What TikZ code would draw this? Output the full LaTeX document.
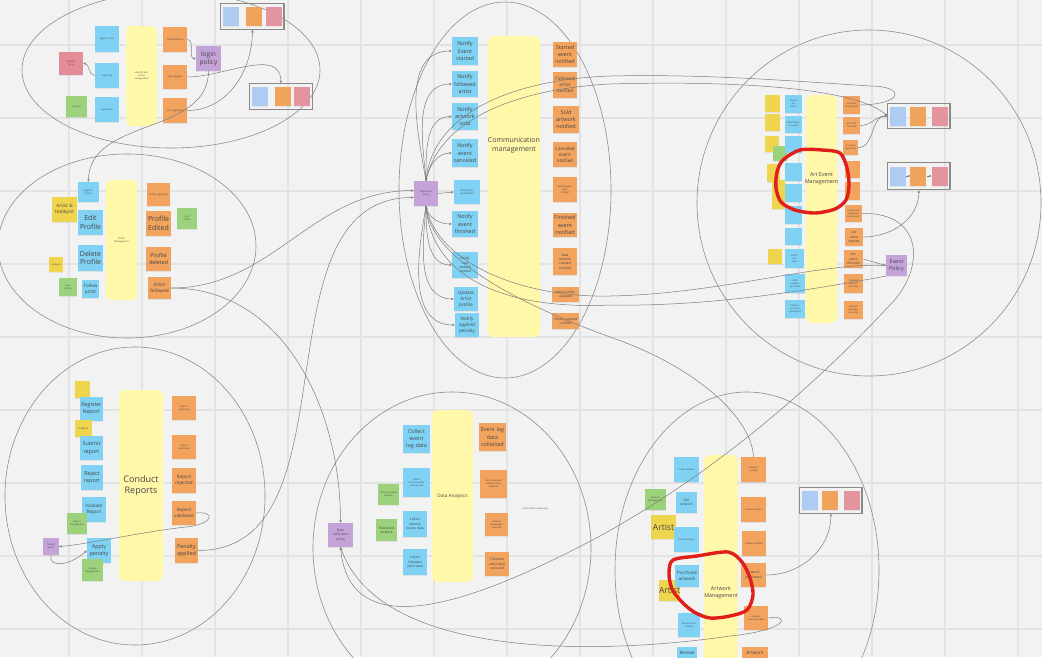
\documentclass[tikz,border=0pt]{standalone}
\usepackage{fontspec}
\setmainfont{Open Sans}
\usetikzlibrary{arrows.meta,positioning,fit,shadows}

\definecolor{bgc}{HTML}{F2F2F2}
\definecolor{gridc}{HTML}{E3E3E3}
\definecolor{ringc}{HTML}{8E8E8E}
\definecolor{linec}{HTML}{7C7C7C}
\definecolor{framec}{HTML}{8A8A8A}
\definecolor{stblue}{HTML}{7FD2F4}
\definecolor{storange}{HTML}{F2A35E}
\definecolor{styellow}{HTML}{EFD54E}
\definecolor{stpale}{HTML}{FFF8A8}
\definecolor{stgreen}{HTML}{9DD27C}
\definecolor{stpurple}{HTML}{C4A3D9}
\definecolor{stred}{HTML}{E48D98}
\definecolor{sqblue}{HTML}{AECBF1}
\definecolor{sqorange}{HTML}{F0A35A}
\definecolor{sqred}{HTML}{E2949F}
\definecolor{markred}{HTML}{E01E1A}
\definecolor{inkc}{HTML}{454545}

\begin{document}
\begin{tikzpicture}[
  x=1pt, y=-1pt,
  node distance=5pt,
  gridline/.style={draw=gridc, line width=1.1pt},
  ring/.style={draw=ringc, line width=0.6pt},
  sticky/.style={inner sep=0pt, align=center, text=inkc, text width=24pt,
                 minimum width=24pt, minimum height=25pt,
                 drop shadow={opacity=0.15, shadow xshift=0pt, shadow yshift=-1.2pt}},
  wh/.style 2 args={text width=#1pt, minimum width=#1pt, minimum height=#2pt},
  bnote/.style={sticky, fill=stblue},
  onote/.style={sticky, fill=storange},
  ynote/.style={sticky, fill=styellow},
  gnote/.style={sticky, fill=stgreen},
  pnote/.style={sticky, fill=stpurple},
  rnote/.style={sticky, fill=stred},
  lane/.style={fill=stpale, rounded corners=6pt, inner sep=0pt, align=center, text=inkc},
  sq/.style={minimum width=16pt, minimum height=19pt, inner sep=0pt,
             drop shadow={opacity=0.12, shadow xshift=0pt, shadow yshift=-1pt}},
  boxframe/.style={draw=framec, line width=1.2pt, inner xsep=2pt, inner ysep=3pt},
  conn/.style={draw=linec, line width=0.5pt, -{Stealth[length=2.8pt,width=2.4pt]}},
  redloop/.style={draw=markred, line width=3.4pt, line cap=round, line join=round},
  txa/.style={font=\fontsize{2.3}{2.9}\selectfont},
  txb/.style={font=\fontsize{3.3}{4.3}\selectfont},
  txc/.style={font=\fontsize{4.6}{6}\selectfont},
  txd/.style={font=\fontsize{5.4}{7.3}\selectfont},
  txe/.style={font=\fontsize{7}{8.6}\selectfont},
  txf/.style={font=\fontsize{9}{11.5}\selectfont},
  txg/.style={font=\fontsize{8.5}{10}\selectfont},
]

\useasboundingbox (0,0) rectangle (1042,657);
\fill[bgc] (0,0) rectangle (1042,657);
\foreach \gx in {69,142,...,1018} \draw[gridline] (\gx,0) -- (\gx,657);
\foreach \gy in {45,118,...,629} \draw[gridline] (0,\gy) -- (1042,\gy);

% ---------- Identity and access ----------
\draw[ring] (171,70) ellipse [x radius=149, y radius=78];
\node[bnote, wh={24}{26}, txa] (reguser) at (107,39) {Register User};
\node[bnote, wh={24}{25}, txa] (loginuser) at (107,75.5) {LoginUser};
\node[bnote, wh={24}{25}, txa] (logoutuser) at (107,109.5) {LogoutUser};
\node[rnote, wh={24}{23}, txa] (loginfail) at (71,63.5) {Failed to\\log in};
\node[gnote, wh={21}{21}, txa] (account) at (76.5,106.5) {Account};
\node[lane, minimum width=31pt, minimum height=100pt, txa] (iam) at (141.5,76) {Identity and\\access\\management};
\node[onote, wh={24}{25}, txa] (uregd) at (175,39.5) {UserRegistered};
\node[onote, wh={24}{24}, txa] (ulogin) at (175,77) {UserLoggedIn};
\node[onote, wh={24}{25}, txa] (ulogout) at (175,110.5) {UserLoggedOut};
\node[pnote, wh={25}{25}, font=\fontsize{6.6}{8.2}\selectfont] (loginpol) at (208.5,58.5) {login\\policy};

\node[sq, fill=sqblue] (b1a) at (231,16.5) {};
\node[sq, fill=sqorange, right=7pt of b1a] (b1b) {};
\node[sq, fill=sqred, right=3pt of b1b] (b1c) {};
\node[boxframe, fit=(b1a)(b1c)] (box1) {};

\node[sq, fill=sqblue] (b2a) at (259.5,96.5) {};
\node[sq, fill=sqorange, right=7pt of b2a] (b2b) {};
\node[sq, fill=sqred, right=3pt of b2b] (b2c) {};
\node[boxframe, fit=(b2a)(b2c)] (box2) {};

% ---------- Profile management ----------
\draw[ring] (127,246) ellipse [x radius=129, y radius=92];
\node[bnote, wh={21}{20}, txa] (regprof) at (88.5,192) {Register\\profile};
\node[bnote, wh={25}{25}, txe] (editprof) at (90.5,222.5) {Edit\\Profile};
\node[bnote, wh={25}{26}, txe] (delprof) at (90.5,258) {Delete\\Profile};
\node[bnote, wh={17}{18}, txc] (folart) at (90.5,289) {Follow\\artist};
\node[ynote, wh={25}{25}, txc] (arthob) at (64.5,209.5) {Artist \&\\Hobbyist};
\node[ynote, wh={14}{15}, txa] (hobby) at (56,264.5) {Hobbyist};
\node[gnote, wh={18}{18}, txa] (uprofa) at (68,287) {User\\Profile};
\node[lane, minimum width=31pt, minimum height=120pt, txa] (profmgmt) at (121.5,240) {Profile\\Management};
\node[onote, wh={23}{23}, txa] (profreg) at (158.5,194.5) {Profile registered};
\node[onote, wh={25}{25}, txe] (profedit) at (158.5,223.5) {Profile\\Edited};
\node[onote, wh={25}{24}, txd] (profdel) at (158.5,259) {Profile\\deleted};
\node[onote, wh={23}{22}, txc] (artfol) at (159.5,288) {Artist\\followed};
\node[gnote, wh={20}{21}, txa] (uprofb) at (187,218.5) {User\\Profile};

% ---------- Communication management ----------
\draw[ring] (505,190) ellipse [x radius=106, y radius=188];
\node[pnote, wh={24}{25}, txa] (notipol) at (426,193.5) {Notification\\Policy};
\node[bnote, wh={26}{28}, txd] (nstart) at (465,51) {Notify\\Event\\started};
\node[bnote, wh={26}{26}, txd] (nfollow) at (465,84) {Notify\\followed\\artist};
\node[bnote, wh={26}{27}, txd] (nsold) at (465,116.5) {Notify\\artwork\\sold};
\node[bnote, wh={26}{28}, txd] (ncancel) at (465,153) {Notify\\event\\canceled};
\node[bnote, wh={26}{24}, txa] (nresched) at (467,192) {Notify Event\\Rescheduled};
\node[bnote, wh={26}{26}, txd] (nfinish) at (465,224) {Notify\\event\\finished};
\node[bnote, wh={26}{26}, txb] (nnewart) at (465,265) {Notify\\new\\artwork\\created};
\node[bnote, wh={24}{24}, txc] (nupdart) at (466,299) {Update\\Artist\\profile};
\node[bnote, wh={24}{24}, txc] (npenalty) at (467,325) {Notify\\applied\\penalty};
\node[lane, minimum width=52pt, minimum height=301pt,
      label={[txe, text=inkc, align=center, yshift=41pt]center:{Communication\\management}}] (commgmt) at (514,186.5) {};
\node[onote, wh={24}{25}, txd] (startn) at (565,54.5) {Started\\event\\notified};
\node[onote, wh={24}{26}, txc] (follown) at (565,85) {Followed\\artist\\notified};
\node[onote, wh={26}{27}, txd] (soldn) at (566,119.5) {Sold\\artwork\\notified};
\node[onote, wh={24}{25}, txc] (canceln) at (565,154.5) {Canceled\\event\\notified};
\node[onote, wh={24}{25}, txa] (reschedn) at (565,189.5) {Rescheduled\\event\\notified};
\node[onote, wh={24}{24}, txd] (finishn) at (565,225) {Finished\\event\\notified};
\node[onote, wh={24}{27}, txb] (newartn) at (565,261.5) {New\\artwork\\created\\notified};
\node[onote, wh={27}{15}, txb] (artupdn) at (565.5,294.5) {Artist profile\\updated};
\node[onote, wh={27}{16}, txb] (penappn) at (565.5,321) {Penalty applied\\notified};

% ---------- Art event management ----------
\draw[ring] (869,203) ellipse [x radius=172, y radius=173];
\node[ynote, wh={15}{17}] (aya) at (772.5,103.5) {};
\node[ynote, wh={15}{17}] (ayb) at (772.5,122.5) {};
\node[ynote, wh={14}{16}] (ayc) at (771.5,144) {};
\node[ynote, wh={13}{18}] (ayd) at (773.5,172.5) {};
\node[ynote, wh={13}{29}] (aye) at (778.5,194.5) {};
\node[gnote, wh={14}{15}] (agr) at (780,153.5) {};
\node[ynote, wh={14}{15}] (ayf) at (775,256.5) {};
\node[bnote, wh={17}{18}, txa] (createev) at (793.5,104) {Create\\art\\event};
\node[bnote, wh={17}{17}, txa] (reschev) at (793.5,124) {Reschedule\\art event};
\node[bnote, wh={17}{17}] (aeb3) at (793.5,144.5) {};
\node[bnote, wh={17}{18}] (aeb4) at (793.5,172) {};
\node[bnote, wh={17}{18}] (aeb5) at (793.5,193) {};
\node[bnote, wh={17}{18}] (aeb6) at (793.5,215) {};
\node[bnote, wh={17}{17}] (aeb7) at (793.5,236.5) {};
\node[bnote, wh={19}{19}, txa] (finishev) at (794.5,258.5) {Finish\\art\\event};
\node[bnote, wh={20}{19}, txa] (addpurch) at (795,283.5) {Add\\artwork\\purchase};
\node[bnote, wh={20}{18}, txa] (checkin) at (795,309) {Check in\\art event\\participant};
\node[lane, minimum width=31pt, minimum height=228pt,
      label={[txd, text=inkc, align=center, yshift=30pt]center:{Art Event\\Management}}] (aemgmt) at (821.5,209) {};
\node[onote, wh={17}{18}, txa] (evresch) at (851.5,105) {art event\\rescheduled};
\node[onote, wh={17}{17}, txa] (evcancel) at (851.5,125.5) {art event\\canceled};
\node[onote, wh={15}{15}, txa] (evreg) at (850.5,147.5) {art event\\registered};
\node[onote, wh={15}{17}] (aeo4) at (852.5,169.5) {};
\node[onote, wh={15}{18}] (aeo5) at (852.5,191) {};
\node[onote, wh={17}{17}, txa] (partreg) at (853.5,213.5) {Participant\\registered\\to art event};
\node[onote, wh={18}{18}, txb] (evstart) at (854,237) {Art\\event\\started};
\node[onote, wh={19}{18}, txb] (evfinish) at (853.5,259) {Art\\event\\finished};
\node[onote, wh={19}{19}, txa] (suspurch) at (853.5,283.5) {Suspend\\artwork\\purchase};
\node[onote, wh={19}{18}, txa] (cancpurch) at (853.5,310) {Artwork\\purchase\\canceled};
\node[pnote, wh={21}{21}, txd] (evpol) at (896.5,265.5) {Event\\Policy};

\node[sq, fill=sqblue] (bAa) at (898,116) {};
\node[sq, fill=sqorange, right=4pt of bAa] (bAb) {};
\node[sq, fill=sqred, right=5pt of bAb] (bAc) {};
\node[boxframe, fit=(bAa)(bAc)] (boxA) {};

\node[sq, fill=sqblue] (bBa) at (898,176) {};
\node[sq, fill=sqorange, right=4pt of bBa] (bBb) {};
\node[sq, fill=sqred, right=5pt of bBb] (bBc) {};
\node[boxframe, fit=(bBa)(bBc), inner ysep=4pt] (boxB) {};

% ---------- Conduct reports ----------
\draw[ring] (135,496) ellipse [x radius=130, y radius=149];
\node[ynote, wh={15}{17}] (repyel) at (82.5,389.5) {};
\node[bnote, wh={23}{24}, txd] (regrep) at (91.5,409) {Register\\Report};
\node[ynote, wh={17}{17}, txa] (rephob) at (83.5,428.5) {Hobbyist};
\node[bnote, wh={23}{24}, txd] (subrep) at (91.5,448) {Submit\\report};
\node[bnote, wh={22}{25}, txd] (rejrep) at (92,477.5) {Reject\\report};
\node[bnote, wh={24}{25}, txc] (valrep) at (94,509.5) {Validate\\Report};
\node[gnote, wh={20}{21}, txa] (repmgmt) at (77,523.5) {Report\\management};
\node[pnote, wh={16}{17}, txa] (penpol) at (51,546.5) {Penalty\\policy};
\node[bnote, wh={24}{25}, txd] (applypen) at (99,550.5) {Apply\\penalty};
\node[gnote, wh={21}{22}, txa] (penmgmt) at (92.5,570) {Penalty\\Management};
\node[lane, minimum width=44pt, minimum height=191pt, txf] (conduct) at (141,485.5) {Conduct\\Reports};
\node[onote, wh={24}{24}, txa] (repregd) at (184,408) {Report\\registered};
\node[onote, wh={24}{24}, txa] (repsubd) at (184,447) {Report\\submitted};
\node[onote, wh={24}{25}, txc] (reprejd) at (184,480.5) {Report\\rejected};
\node[onote, wh={24}{24}, txc] (repvald) at (184,513) {Report\\validated};
\node[onote, wh={23}{25}, txd] (penappd) at (186.5,550.5) {Penalty\\applied};

% ---------- Data analytics ----------
\draw[ring] (452,548) ellipse [x radius=139, y radius=156];
\node[pnote, wh={25}{24}, txb] (dcpol) at (340.5,535) {Data\\collection\\policy};
\node[bnote, wh={27}{28}, txd] (colevent) at (416.5,439) {Collect\\event\\log data};
\node[bnote, wh={27}{29}, txa] (colrec) at (416.5,482.5) {Collect\\recommended\\artwork data};
\node[bnote, wh={24}{26}, txb] (colrev) at (415,524) {Collect\\artwork\\review data};
\node[bnote, wh={24}{26}, txb] (colfol) at (415,562) {Collect\\followed\\artist data};
\node[gnote, wh={21}{21}, txa] (recart) at (388.5,494.5) {Recommended\\artwork};
\node[gnote, wh={21}{22}, txb] (revart) at (386.5,530) {Reviewed\\artwork};
\node[lane, minimum width=41pt, minimum height=172pt, txc] (danalytics) at (452.5,496) {Data Analytics};
\node[onote, wh={27}{28}, txd] (evlogd) at (492.5,437) {Event log\\data\\collected};
\node[onote, wh={27}{28}, txa] (recd) at (493.5,484) {Recommended\\artwork data\\collected};
\node[onote, wh={23}{23}, txa] (revd) at (496.5,524.5) {Artwork\\review data\\collected};
\node[onote, wh={24}{24}, txb] (fold) at (497,564) {Followed\\artist data\\collected};
\node[txa, text=inkc] (mlnote) at (535,509) {ai/ml machine learning};

% ---------- Artwork management ----------
\draw[ring] (747,570) ellipse [x radius=132, y radius=178];
\node[bnote, wh={25}{25}, txa] (createart) at (686.5,469.5) {Create artwork};
\node[gnote, wh={21}{21}, txa] (artmgmtg) at (655.5,499.5) {Artwork\\Management};
\node[bnote, wh={21}{21}, txb] (editart) at (686.5,502.5) {Edit\\Artwork};
\node[ynote, wh={25}{24}, txg] (artista) at (663.5,527) {Artist};
\node[bnote, wh={25}{25}, txa] (delart) at (686.5,539.5) {Delete artwork};
\node[ynote, wh={21}{21}, txg] (artistb) at (669.5,590.5) {Artist};
\node[bnote, wh={24}{22}, txc] (purchart) at (687,576) {Purchase\\artwork};
\node[bnote, wh={22}{24}, txa] (recomart) at (689,625) {Recommend\\artwork};
\node[bnote, wh={20}{12}, txc] (reviewart) at (687,653) {Review};
\node[lane, minimum width=32pt, minimum height=275pt, txd] (artmgmt) at (721,592.5) {Artwork\\Management};
\node[onote, wh={25}{25}, txa] (artcreated) at (753.5,469.5) {Artwork\\created};
\node[onote, wh={25}{25}, txa] (artedited) at (753.5,509.5) {Artwork edited};
\node[onote, wh={24}{25}, txa] (artdeleted) at (754,543.5) {Artwork deleted};
\node[onote, wh={25}{24}, txb] (artpurch) at (753.5,575) {Artwork\\purchased};
\node[onote, wh={24}{24}, txa] (artrecd) at (756,618) {Artwork\\recommended};
\node[onote, wh={26}{12}, txc] (artrevd) at (755,653) {Artwork};

\node[sq, fill=sqblue] (bCa) at (810,500.5) {};
\node[sq, fill=sqorange, right=4pt of bCa] (bCb) {};
\node[sq, fill=sqred, right=5pt of bCb] (bCc) {};
\node[boxframe, fit=(bCa)(bCc)] (boxC) {};

% ---------- Connectors ----------
\draw[conn] (uregd.east) to[out=0,in=180] (loginpol.west);
\draw[conn] (loginuser.west) to[out=180,in=0] (loginfail.east);
\draw[conn] (ulogin.east) to[out=0,in=90] (box2.north);
\draw[conn] (ulogout.east) to[out=0,in=-90] (box1.south);
\draw[conn] (loginpol.south) to[out=-90,in=90] (regprof.north);

\draw[conn] (artfol.east) to[out=0,in=180] ([yshift=3pt]notipol.west);
\draw[conn] (artfol.east) to[out=0,in=90] (dcpol.north);
\draw[conn] (penappd.east) to[out=0,in=180] ([yshift=-4pt]notipol.west);

\draw[conn] (notipol.north) to[out=100,in=180] (nstart.west);
\draw[conn] (notipol.north) to[out=95,in=180] (nfollow.west);
\draw[conn] (notipol.north) to[out=90,in=180] (nsold.west);
\draw[conn] (notipol.north) to[out=80,in=180] (ncancel.west);
\draw[conn] (notipol.east) -- (nresched.west);
\draw[conn] (notipol.south) to[out=-80,in=180] (nfinish.west);
\draw[conn] (notipol.south) to[out=-90,in=180] (nnewart.west);
\draw[conn] (notipol.south) to[out=-95,in=180] (nupdart.west);
\draw[conn] (notipol.south) to[out=-100,in=180] (npenalty.west);

\coordinate (tbus) at (610,76);
\coordinate (tloop) at (870,86);
\coordinate (tbus2) at (610,84);
\draw[conn] (evresch.east) .. controls (905,104) and (905,86) .. (tloop)
            .. controls (780,80) and (700,74) .. (tbus)
            .. controls (500,80) and (432,120) .. (notipol.north);
\draw[conn] (notipol.north) .. controls (436,128) and (500,90) .. (tbus2)
            .. controls (750,80) and (860,90) .. (boxA.west);
\draw[conn] (evcancel.east) to[out=0,in=180] (boxA.west);
\draw[conn] (evreg.east) to[out=0,in=180] (boxA.west);
\draw[conn] (evstart.east) to[out=0,in=-90] (boxB.south);
\draw[conn] (bBa) -- (bBb);
\draw[conn] (bBb) -- (bBc);
\draw[conn] (evfinish.east) -- (evpol.west);

\coordinate (ebus1) at (610,296);
\coordinate (ebus2) at (610,305);
\draw[conn] (evpol.west) .. controls (820,262) and (720,294) .. (ebus1)
            .. controls (520,298) and (438,262) .. (notipol.south);
\draw[conn] (evpol.south west) .. controls (830,286) and (720,307) .. (ebus2)
            .. controls (500,310) and (432,275) .. (notipol.south);

\coordinate (abus) at (610,337);
\draw[conn] (artcreated.north) .. controls (752,420) and (700,368) .. (abus)
            .. controls (530,308) and (432,262) .. (notipol.south);

\coordinate (ploop) at (890,305);
\coordinate (pbus) at (600,536);
\draw[conn] (partreg.east) .. controls (925,212) and (925,270) .. (ploop)
            .. controls (820,380) and (720,470) .. (pbus)
            .. controls (480,600) and (350,650) .. (dcpol.south);

\coordinate (rloop) at (730,636);
\draw[conn] (artrecd.east) .. controls (790,614) and (790,630) .. (rloop)
            .. controls (600,655) and (380,660) .. (dcpol.south);
\draw[conn] (artpurch.east) to[out=0,in=-90] (boxC.south);

\coordinate (vloop) at (186,527);
\draw[conn] (repvald.east) .. controls (216,511) and (214,524) .. (vloop)
            .. controls (140,532) and (90,544) .. (penpol.east);
\draw[conn] (penpol.south) .. controls (48,568) and (70,566) .. (applypen.west);

% ---------- Hand-drawn marks ----------
\draw[redloop] plot[smooth cycle] coordinates {(783,160) (800,150) (822,150) (840,153)
  (847,168) (849,185) (846,200) (835,209) (815,213) (795,210) (781,202) (776,188) (777,172)};
\draw[redloop] plot[smooth cycle] coordinates {(673,560) (697,556) (728,552) (742,562)
  (750,578) (753,595) (747,610) (730,616) (710,618) (694,612) (682,602) (672,589) (669,573)};

\end{tikzpicture}
\end{document}
